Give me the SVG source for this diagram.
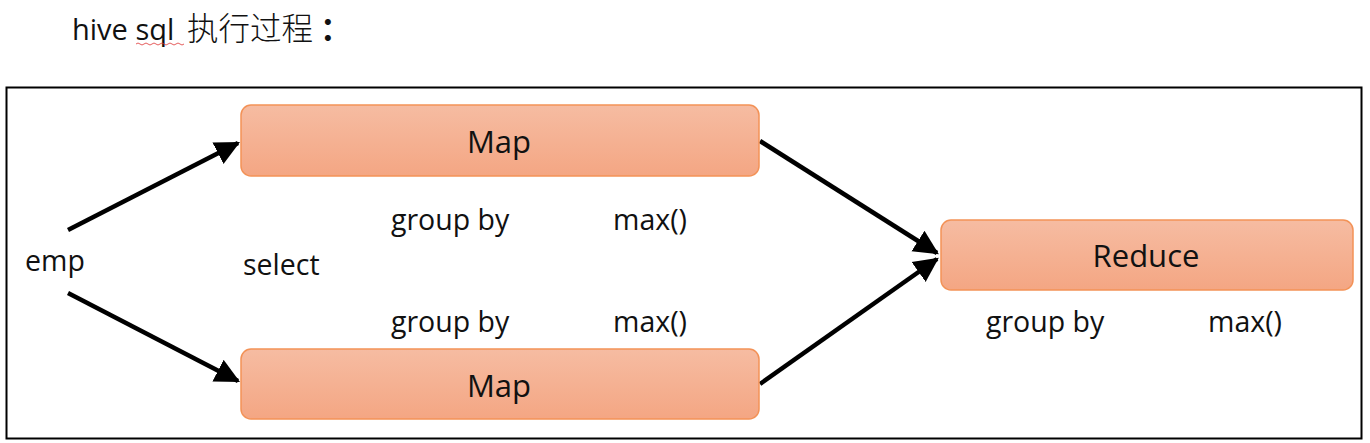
<svg xmlns="http://www.w3.org/2000/svg" width="1370" height="443" viewBox="0 0 1370 443">
<style>
.t{font-family:"Open Sans","Liberation Sans",sans-serif;fill:#111;}
.lbl{font-size:28.5px;}
.nl{font-size:31px;text-anchor:middle;dominant-baseline:central;}
.box{fill:url(#g);stroke:#F39257;stroke-width:1.5;}
.c{stroke:#000;stroke-width:4.5;fill:none;marker-end:url(#ah);}
</style>
<defs>
<linearGradient id="g" x1="0" y1="0" x2="0" y2="1">
<stop offset="0" stop-color="#F6BCA2"/>
<stop offset="1" stop-color="#F4A683"/>
</linearGradient>
<marker id="ah" markerWidth="6" markerHeight="6" refX="5" refY="3" orient="auto" markerUnits="strokeWidth">
<path d="M0,0.3 L5.5,3 L0,5.7 Z" fill="#000"/>
</marker>
</defs>
<rect width="1370" height="443" fill="#fff"/>
<g id="title">
<text class="t" x="72" y="40" font-size="29" style="font-family:'Open Sans','Noto Sans CJK SC',sans-serif">hive sql<tspan x="187" font-size="31.5" style="font-family:'Noto Sans CJK SC',sans-serif" font-weight="300">执行过程</tspan><tspan x="320" font-size="31.5" style="font-family:'Noto Sans CJK SC',sans-serif" font-weight="700">：</tspan></text>
<path d="M136,44 q2,-2 4,0 t4,0 t4,0 t4,0 t4,0 t4,0 t4,0 t4,0 t4,0 t4,0 t4,0 t4,0" stroke="#d33" stroke-width="0.8" fill="none"/>
</g>
<rect id="frame" x="6.5" y="87.5" width="1355" height="351" fill="none" stroke="#000" stroke-width="2"/>
<g id="connectors">
<line class="c" x1="68" y1="230" x2="238" y2="143"/>
<line class="c" x1="68" y1="293" x2="238" y2="381"/>
<line class="c" x1="760" y1="141" x2="937" y2="253"/>
<line class="c" x1="760" y1="384" x2="937" y2="259"/>
</g>
<g id="map1"><rect class="box" x="241" y="105" width="518" height="71" rx="10"/><text class="t nl" x="499" y="141">Map</text></g>
<g id="map2"><rect class="box" x="241" y="349" width="518" height="70" rx="10"/><text class="t nl" x="499" y="385">Map</text></g>
<g id="reduce"><rect class="box" x="941" y="220" width="412" height="70" rx="10"/><text class="t nl" x="1146" y="255">Reduce</text></g>
<g id="labels">
<text class="t lbl" x="25" y="271">emp</text>
<text class="t lbl" x="243" y="275">select</text>
<text class="t lbl" x="391" y="230">group by</text>
<text class="t lbl" x="613" y="230">max()</text>
<text class="t lbl" x="391" y="332">group by</text>
<text class="t lbl" x="613" y="332">max()</text>
<text class="t lbl" x="986" y="332">group by</text>
<text class="t lbl" x="1208" y="332">max()</text>
</g>
</svg>
